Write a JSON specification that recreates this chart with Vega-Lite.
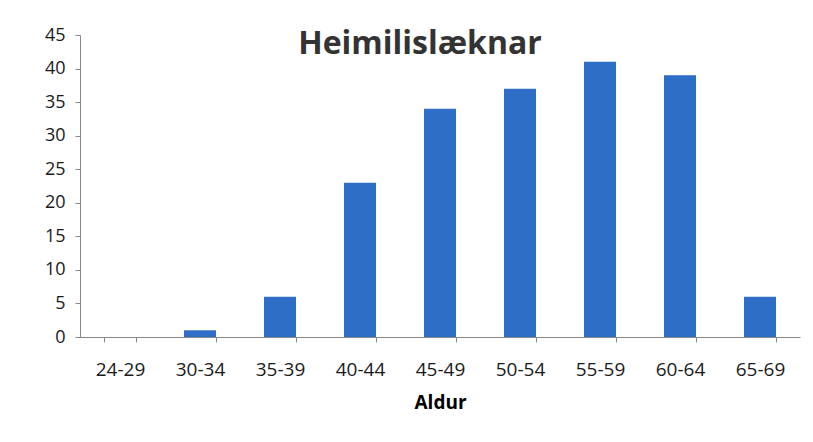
{
  "$schema": "https://vega.github.io/schema/vega-lite/v6.json",
  "width": 720,
  "height": 302,
  "autosize": {"type": "none"},
  "padding": {"left": 80, "top": 35, "right": 13, "bottom": 105},
  "background": "white",
  "title": {
    "text": "Heimilislæknar",
    "font": "Open Sans",
    "fontSize": 32,
    "fontWeight": "bold",
    "color": "#333333",
    "frame": "group",
    "anchor": "middle",
    "dx": -20,
    "offset": -35,
    "baseline": "top"
  },
  "config": {
    "view": {"stroke": null},
    "axis": {"labelFont": "Open Sans", "titleFont": "Open Sans", "grid": false, "domainColor": "#888888", "tickColor": "#888888", "labelColor": "#1a1a1a"}
  },
  "data": {
    "values": [
      {"aldur": "24-29", "fjoldi": 0},
      {"aldur": "30-34", "fjoldi": 1},
      {"aldur": "35-39", "fjoldi": 6},
      {"aldur": "40-44", "fjoldi": 23},
      {"aldur": "45-49", "fjoldi": 34},
      {"aldur": "50-54", "fjoldi": 37},
      {"aldur": "55-59", "fjoldi": 41},
      {"aldur": "60-64", "fjoldi": 39},
      {"aldur": "65-69", "fjoldi": 6}
    ]
  },
  "mark": {"type": "bar", "color": "#2F6EC6"},
  "encoding": {
    "x": {
      "field": "aldur",
      "type": "nominal",
      "sort": null,
      "scale": {"paddingInner": 0.6, "paddingOuter": 0.3},
      "axis": {
        "title": "Aldur",
        "titleFontSize": 19,
        "titleFontWeight": "bold",
        "titlePadding": 14,
        "labelAngle": 0,
        "labelFontSize": 19,
        "labelPadding": 18,
        "tickBand": "extent",
        "tickSize": 5
      }
    },
    "y": {
      "field": "fjoldi",
      "type": "quantitative",
      "scale": {"domain": [0, 45]},
      "axis": {
        "title": null,
        "values": [0, 5, 10, 15, 20, 25, 30, 35, 40, 45],
        "labelFontSize": 18,
        "labelPadding": 10,
        "tickSize": 5
      }
    }
  }
}
